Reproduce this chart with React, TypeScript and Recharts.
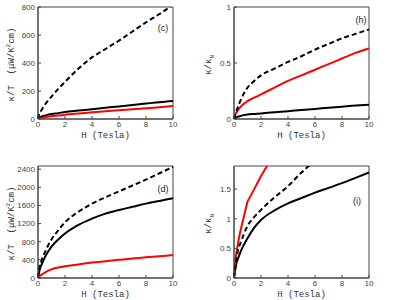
import React from 'react';
import { LineChart, Line, XAxis, YAxis, ReferenceArea } from 'recharts';

// field values (Tesla), shared by every panel
const H = [0, 0.1, 0.2, 0.3, 0.5, 1, 1.5, 2, 3, 4, 5, 6, 7, 8, 9, 10];

// panel (c): kappa/T
const cDashed = [0, 40, 55, 70, 100, 160, 215, 265, 360, 440, 500, 560, 625, 690, 750, 815];
const cBlack = [0, 12, 16, 19, 24, 35, 42, 50, 60, 70, 80, 90, 100, 110, 120, 128];
const cRed = [0, 4, 7, 9, 13, 20, 25, 30, 40, 48, 56, 63, 70, 77, 84, 92];

// panel (h): kappa/kappa_N
const hDashed = [0, 0.04, 0.08, 0.11, 0.17, 0.28, 0.34, 0.39, 0.45, 0.51, 0.56, 0.62, 0.67, 0.72, 0.76, 0.8];
const hRed = [0, 0.04, 0.06, 0.08, 0.11, 0.16, 0.19, 0.22, 0.28, 0.34, 0.39, 0.44, 0.49, 0.54, 0.59, 0.63];
const hBlack = [0, 0.012, 0.017, 0.02, 0.028, 0.04, 0.045, 0.05, 0.06, 0.07, 0.08, 0.09, 0.1, 0.11, 0.12, 0.128];

// panel (d): kappa/T
const dDashed = [0, 250, 320, 420, 560, 850, 1050, 1230, 1460, 1640, 1780, 1910, 2040, 2170, 2310, 2450];
const dBlack = [0, 150, 250, 320, 450, 690, 850, 980, 1170, 1310, 1420, 1500, 1570, 1640, 1700, 1760];
const dRed = [0, 35, 60, 80, 120, 190, 230, 260, 300, 340, 370, 400, 430, 455, 480, 505];

// panel (i): kappa/kappa_N
const iRed = [0.05, 0.3, 0.45, 0.6, 0.82, 1.29, 1.5, 1.72, 2.1, null, null, null, null, null, null, null];
const iDashed = [0, 0.2, 0.35, 0.47, 0.6, 0.88, 1.03, 1.15, 1.36, 1.55, 1.78, 1.98, null, null, null, null];
const iBlack = [0, 0.15, 0.27, 0.33, 0.45, 0.67, 0.85, 0.98, 1.14, 1.26, 1.35, 1.44, 1.52, 1.6, 1.69, 1.78];

const xTicks = [0, 2, 4, 6, 8, 10];
const cTicks = [0, 200, 400, 600, 800];
const hTicks = [0, 0.5, 1];
const dTicks = [0, 400, 800, 1200, 1600, 2000, 2400];
const iTicks = [0, 0.5, 1, 1.5];

const build = (dashed: (number | null)[], black: (number | null)[], red: (number | null)[]) =>
  H.map((h, i) => ({ h, dashed: dashed[i], black: black[i], red: red[i] }));

const tickFont = { fontSize: 8, fill: '#444', fontFamily: 'Liberation Sans, Arial, sans-serif' };
const mono = 'Liberation Mono, Courier New, monospace';

interface PanelProps {
  left: number;
  top: number;
  plotLeft: number; // plot box, page coordinates
  plotTop: number;
  plotW: number;
  plotH: number;
  data: any[];
  yMax: number;
  yTicks: number[];
  tag: string;
  tagX: number;
  tagY: number;
  yLabel: React.ReactNode;
  yLabelX: number;
  redLinear?: boolean;
}

const W = 205;
const HT = 150;

const Panel: React.FC<PanelProps> = (p) => {
  const yAxisW = 30;
  const xAxisH = 14;
  const margin = {
    left: p.plotLeft - p.left - yAxisW,
    top: p.plotTop - p.top,
    right: W - (p.plotLeft - p.left) - p.plotW,
    bottom: HT - (p.plotTop - p.top) - p.plotH - xAxisH,
  };
  return (
    <div style={{ position: 'absolute', left: p.left, top: p.top, width: W, height: HT }}>
      <LineChart width={W} height={HT} data={p.data} margin={margin}>
        <XAxis
          dataKey="h"
          type="number"
          domain={[0, 10]}
          ticks={xTicks}
          height={xAxisH}
          tick={tickFont}
          tickSize={-3}
          tickMargin={5}
          stroke="#444"
        />
        <YAxis
          type="number"
          domain={[0, p.yMax]}
          ticks={p.yTicks}
          allowDataOverflow
          width={yAxisW}
          tick={tickFont}
          tickSize={-3}
          tickMargin={6}
          stroke="#444"
        />
        <ReferenceArea x1={0} x2={10} y1={0} y2={p.yMax} stroke="#444" strokeWidth={1} fill="none" fillOpacity={0} />
        <Line type="monotone" dataKey="black" stroke="#000" strokeWidth={2} dot={false} isAnimationActive={false} />
        <Line
          type={p.redLinear ? 'linear' : 'monotone'}
          dataKey="red"
          stroke="#ff0000"
          strokeWidth={2}
          dot={false}
          isAnimationActive={false}
        />
        <Line
          type="monotone"
          dataKey="dashed"
          stroke="#000"
          strokeWidth={2}
          strokeDasharray="5 3"
          dot={false}
          isAnimationActive={false}
        />
      </LineChart>
      <div
        style={{
          position: 'absolute',
          left: p.tagX - p.left - 10,
          top: p.tagY - p.top - 6,
          width: 20,
          textAlign: 'center',
          fontSize: 9,
          fontFamily: 'Liberation Sans, Arial, sans-serif',
          color: '#222',
          lineHeight: '12px',
        }}
      >
        {p.tag}
      </div>
      <div
        style={{
          position: 'absolute',
          left: p.plotLeft - p.left + p.plotW / 2 - 40,
          top: p.plotTop - p.top + p.plotH + 11,
          width: 80,
          textAlign: 'center',
          fontSize: 9,
          fontFamily: mono,
          color: '#333',
          lineHeight: '12px',
        }}
      >
        H (Tesla)
      </div>
      <div
        style={{
          position: 'absolute',
          left: p.yLabelX - p.left - 60,
          top: p.plotTop - p.top + p.plotH / 2 - 6,
          width: 120,
          textAlign: 'center',
          fontSize: 9,
          fontFamily: mono,
          color: '#333',
          lineHeight: '12px',
          whiteSpace: 'nowrap',
          transform: 'rotate(-90deg)',
        }}
      >
        {p.yLabel}
      </div>
    </div>
  );
};

const kT = (
  <span>
    κ/T&nbsp;&nbsp;(μW/K<sup style={{ fontSize: 6 }}>2</sup>cm)
  </span>
);
const kN = (
  <span>
    κ/κ<sub style={{ fontSize: 6 }}>N</sub>
  </span>
);

const App: React.FC = () => {
  return (
    <div style={{ position: 'absolute', left: 0, top: 0, width: 415, height: 300, background: '#fff' }}>
      <Panel
        left={0} top={0} plotLeft={38} plotTop={7} plotW={135} plotH={112}
        data={build(cDashed, cBlack, cRed)} yMax={800} yTicks={cTicks}
        tag="(c)" tagX={163} tagY={28} yLabel={kT} yLabelX={10}
      />
      <Panel
        left={205} top={0} plotLeft={234} plotTop={7} plotW={135} plotH={112}
        data={build(hDashed, hBlack, hRed)} yMax={1} yTicks={hTicks}
        tag="(h)" tagX={361} tagY={20} yLabel={kN} yLabelX={211}
      />
      <Panel
        left={0} top={150} plotLeft={38} plotTop={166} plotW={135} plotH={112}
        data={build(dDashed, dBlack, dRed)} yMax={2470} yTicks={dTicks}
        tag="(d)" tagX={163} tagY={189} yLabel={kT} yLabelX={10}
      />
      <Panel
        left={205} top={150} plotLeft={234} plotTop={166} plotW={135} plotH={112}
        data={build(iDashed, iBlack, iRed)} yMax={1.89} yTicks={iTicks}
        tag="(i)" tagX={357} tagY={201} yLabel={kN} yLabelX={211} redLinear
      />
    </div>
  );
};

export default App;
